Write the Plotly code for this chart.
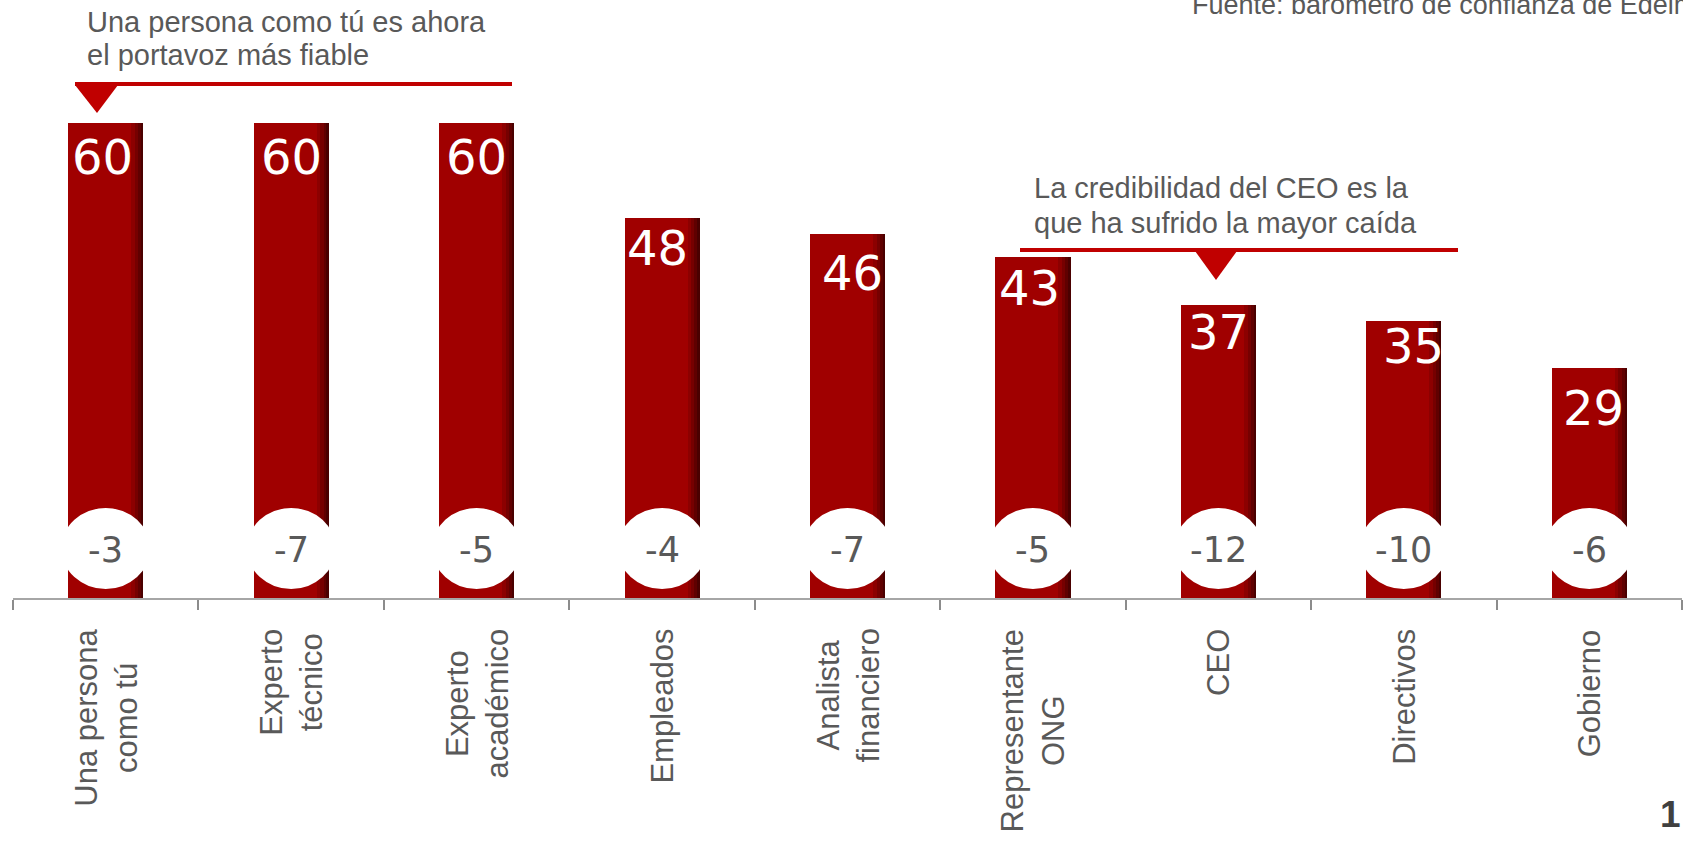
import plotly.graph_objects as go

# ---------------- data ----------------
CATEGORIES = ["Una persona<br>como tú", "Experto<br>técnico", "Experto<br>académico",
              "Empleados", "Analista<br>financiero", "Representante<br>ONG",
              "CEO", "Directivos", "Gobierno"]
TRUST = [60, 60, 60, 48, 46, 43, 37, 35, 29]
CHANGE = ["-3", "-7", "-5", "-4", "-7", "-5", "-12", "-10", "-6"]

NOTE_1 = ["Una persona como tú es ahora", "el portavoz más fiable"]
NOTE_2 = ["La credibilidad del CEO es la", "que ha sufrido la mayor caída"]
SOURCE = "Fuente: barómetro de confianza de Edelman"
PAGE = "1"

# per-label nudges (pixels) for the value labels, as placed in the original slide
LABEL_DX = [-3, 0, 0, -5, 5, -3, 0, 10, 4]
LABEL_DY = [-34, -34, -34, -30, -39, -31, -27, -25, -40]

# ---------------- geometry helpers (pixels -> paper) ----------------
W, H = 1683, 841
ML, MR, MT, MB = 13, 1, 0, 243
PW = W - ML - MR
PH = H - MT - MB


def fx(px):
    return (px - ML) / PW


def fy(py):
    return (H - MB - py) / PH


RED = "#A00000"
ACCENT = "#C00000"
GREY = "#595959"
SANS = "Liberation Sans, Arial, sans-serif"
VERD = "DejaVu Sans, Verdana, sans-serif"
BAR_W = 0.405

fig = go.Figure()
n = len(CATEGORIES)
idx = list(range(n))
boundaries = [i - 0.5 for i in range(n + 1)]

# main bars
fig.add_trace(go.Bar(x=idx, y=TRUST, width=BAR_W, offset=-BAR_W / 2,
                     marker=dict(color=RED, line=dict(width=0)),
                     hoverinfo="skip", showlegend=False))
# darker right edge (cylinder shading)
for w, c in [(0.065, "#8c0000"), (0.045, "#760000"), (0.028, "#600000"), (0.012, "#4a0000")]:
    fig.add_trace(go.Bar(x=idx, y=TRUST, width=w, offset=BAR_W / 2 - w,
                         marker=dict(color=c, line=dict(width=0)),
                         hoverinfo="skip", showlegend=False))

shapes = []
annotations = []

# white ellipses with change labels
EL_Y0, EL_Y1, EL_HALF = 1.14, 11.36, 0.239
for i, ch in enumerate(CHANGE):
    shapes.append(dict(type="circle", xref="x", yref="y", x0=i - EL_HALF, x1=i + EL_HALF,
                       y0=EL_Y0, y1=EL_Y1, fillcolor="white", line=dict(width=0),
                       layer="above"))
    annotations.append(dict(x=i, y=6.1, xref="x", yref="y", text=ch, showarrow=False,
                            xanchor="center", yanchor="middle",
                            font=dict(family=VERD, size=35, color=GREY)))

# value labels inside bar tops
for i, v in enumerate(TRUST):
    annotations.append(dict(x=i, y=v, xref="x", yref="y", text=str(v), showarrow=False,
                            xanchor="center", yanchor="middle",
                            xshift=LABEL_DX[i], yshift=LABEL_DY[i],
                            font=dict(family=VERD, size=48, color="white")))

# category labels (rotated, centred lines)
for i, c in enumerate(CATEGORIES):
    annotations.append(dict(x=i, y=fy(627), xref="x", yref="paper", text=c, showarrow=False,
                            textangle=-90, xanchor="center", yanchor="top", align="center",
                            font=dict(family=SANS, size=31, color=GREY)))

# callout 1
shapes.append(dict(type="line", xref="paper", yref="paper", x0=fx(75), x1=fx(512),
                   y0=fy(84), y1=fy(84), line=dict(color=ACCENT, width=4)))
shapes.append(dict(type="path", xref="paper", yref="paper",
                   path=f"M {fx(75)},{fy(85)} L {fx(118)},{fy(85)} L {fx(97)},{fy(113)} Z",
                   fillcolor=ACCENT, line=dict(width=0)))
annotations.append(dict(x=fx(85), y=fy(22), xref="paper", yref="paper", text=NOTE_1[0],
                        showarrow=False, xanchor="left", yanchor="middle",
                        font=dict(family=SANS, size=29, color=GREY)))
annotations.append(dict(x=fx(85), y=fy(55), xref="paper", yref="paper", text=NOTE_1[1],
                        showarrow=False, xanchor="left", yanchor="middle",
                        font=dict(family=SANS, size=29, color=GREY)))

# callout 2
shapes.append(dict(type="line", xref="paper", yref="paper", x0=fx(1020), x1=fx(1458),
                   y0=fy(250), y1=fy(250), line=dict(color=ACCENT, width=4)))
shapes.append(dict(type="path", xref="paper", yref="paper",
                   path=f"M {fx(1195)},{fy(251)} L {fx(1237)},{fy(251)} L {fx(1216)},{fy(280)} Z",
                   fillcolor=ACCENT, line=dict(width=0)))
annotations.append(dict(x=fx(1032), y=fy(188), xref="paper", yref="paper", text=NOTE_2[0],
                        showarrow=False, xanchor="left", yanchor="middle",
                        font=dict(family=SANS, size=29, color=GREY)))
annotations.append(dict(x=fx(1032), y=fy(223), xref="paper", yref="paper", text=NOTE_2[1],
                        showarrow=False, xanchor="left", yanchor="middle",
                        font=dict(family=SANS, size=29, color=GREY)))

# source & page number
annotations.append(dict(x=fx(1190), y=fy(5), xref="paper", yref="paper", text=SOURCE,
                        showarrow=False, xanchor="left", yanchor="middle",
                        font=dict(family=SANS, size=27, color=GREY)))
annotations.append(dict(x=fx(1683), y=fy(814), xref="paper", yref="paper", text=f"<b>{PAGE}</b>",
                        showarrow=False, xanchor="right", yanchor="middle",
                        font=dict(family=SANS, size=37, color="#404040")))

fig.update_layout(
    width=W, height=H,
    margin=dict(l=ML, r=MR, t=MT, b=MB, pad=0),
    paper_bgcolor="white", plot_bgcolor="white",
    barmode="overlay", bargap=0,
    shapes=shapes, annotations=annotations,
    xaxis=dict(range=[-0.5, n - 0.5], tickmode="array", tickvals=boundaries,
               showticklabels=False, ticks="outside",
               ticklen=10, tickwidth=2, tickcolor="#8c8c8c",
               showline=True, linecolor="#a6a6a6", linewidth=2,
               showgrid=False, zeroline=False, fixedrange=True),
    yaxis=dict(range=[0, 75.5], visible=False, showgrid=False, zeroline=False),
)

fig.write_html("out.html", config={"displayModeBar": False},
               post_script="document.body.style.margin='0';document.body.style.overflow='hidden';")
